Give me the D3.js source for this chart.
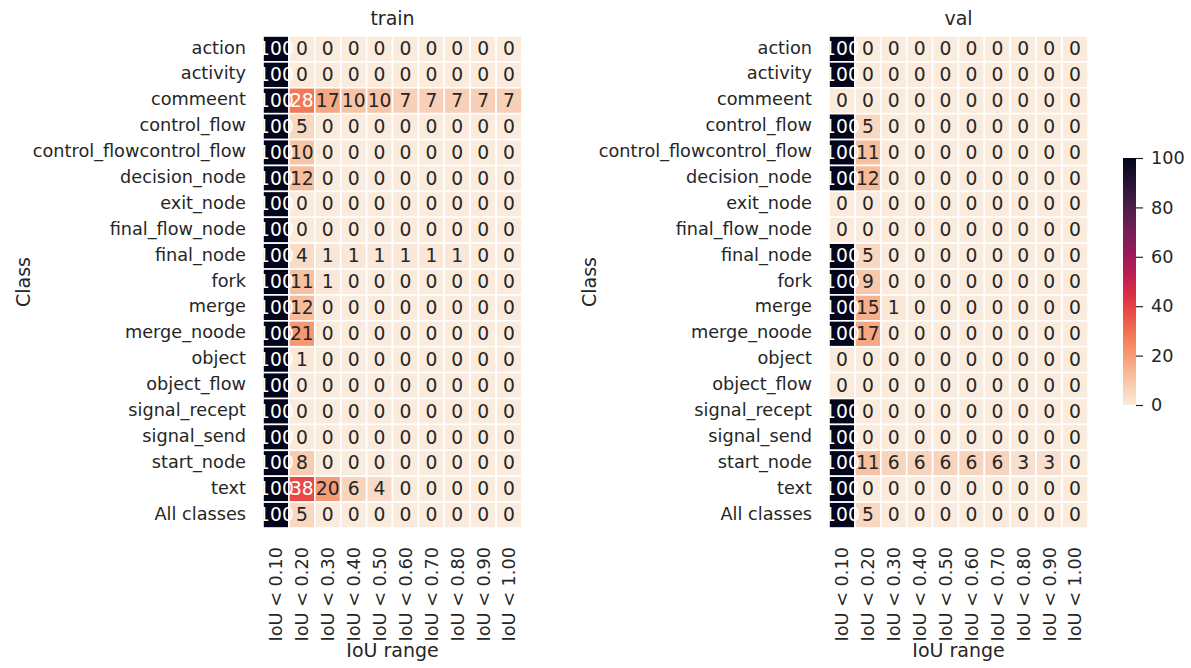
<!DOCTYPE html>
<html>
<head>
<meta charset="utf-8">
<script src="https://cdn.jsdelivr.net/npm/d3@7"></script>
<style>
    body { margin: 0; background: #fff; }
    svg { font-family: "DejaVu Sans", sans-serif; }
</style>
</head>
<body>
<svg class="heatmaps" width="1191" height="668"></svg>
<script>
// row / column labels
const classes = ["action", "activity", "commeent", "control_flow", "control_flowcontrol_flow",
    "decision_node", "exit_node", "final_flow_node", "final_node", "fork", "merge",
    "merge_noode", "object", "object_flow", "signal_recept", "signal_send",
    "start_node", "text", "All classes"];
const iouRanges = ["IoU < 0.10", "IoU < 0.20", "IoU < 0.30", "IoU < 0.40", "IoU < 0.50",
    "IoU < 0.60", "IoU < 0.70", "IoU < 0.80", "IoU < 0.90", "IoU < 1.00"];

// percentage of boxes per class and IoU bucket
const trainValues = [
    [100, 0, 0, 0, 0, 0, 0, 0, 0, 0],
    [100, 0, 0, 0, 0, 0, 0, 0, 0, 0],
    [100, 28, 17, 10, 10, 7, 7, 7, 7, 7],
    [100, 5, 0, 0, 0, 0, 0, 0, 0, 0],
    [100, 10, 0, 0, 0, 0, 0, 0, 0, 0],
    [100, 12, 0, 0, 0, 0, 0, 0, 0, 0],
    [100, 0, 0, 0, 0, 0, 0, 0, 0, 0],
    [100, 0, 0, 0, 0, 0, 0, 0, 0, 0],
    [100, 4, 1, 1, 1, 1, 1, 1, 0, 0],
    [100, 11, 1, 0, 0, 0, 0, 0, 0, 0],
    [100, 12, 0, 0, 0, 0, 0, 0, 0, 0],
    [100, 21, 0, 0, 0, 0, 0, 0, 0, 0],
    [100, 1, 0, 0, 0, 0, 0, 0, 0, 0],
    [100, 0, 0, 0, 0, 0, 0, 0, 0, 0],
    [100, 0, 0, 0, 0, 0, 0, 0, 0, 0],
    [100, 0, 0, 0, 0, 0, 0, 0, 0, 0],
    [100, 8, 0, 0, 0, 0, 0, 0, 0, 0],
    [100, 38, 20, 6, 4, 0, 0, 0, 0, 0],
    [100, 5, 0, 0, 0, 0, 0, 0, 0, 0]
];
const valValues = [
    [100, 0, 0, 0, 0, 0, 0, 0, 0, 0],
    [100, 0, 0, 0, 0, 0, 0, 0, 0, 0],
    [0, 0, 0, 0, 0, 0, 0, 0, 0, 0],
    [100, 5, 0, 0, 0, 0, 0, 0, 0, 0],
    [100, 11, 0, 0, 0, 0, 0, 0, 0, 0],
    [100, 12, 0, 0, 0, 0, 0, 0, 0, 0],
    [0, 0, 0, 0, 0, 0, 0, 0, 0, 0],
    [0, 0, 0, 0, 0, 0, 0, 0, 0, 0],
    [100, 5, 0, 0, 0, 0, 0, 0, 0, 0],
    [100, 9, 0, 0, 0, 0, 0, 0, 0, 0],
    [100, 15, 1, 0, 0, 0, 0, 0, 0, 0],
    [100, 17, 0, 0, 0, 0, 0, 0, 0, 0],
    [0, 0, 0, 0, 0, 0, 0, 0, 0, 0],
    [0, 0, 0, 0, 0, 0, 0, 0, 0, 0],
    [100, 0, 0, 0, 0, 0, 0, 0, 0, 0],
    [100, 0, 0, 0, 0, 0, 0, 0, 0, 0],
    [100, 11, 6, 6, 6, 6, 6, 3, 3, 0],
    [100, 0, 0, 0, 0, 0, 0, 0, 0, 0],
    [100, 5, 0, 0, 0, 0, 0, 0, 0, 0]
];
const colorbarTicks = [0, 20, 40, 60, 80, 100];

// seaborn "rocket_r" approximated by a few samples of the colormap
const rocketStops = ["#faebdd", "#f6b48f", "#f37651", "#e13342", "#ad1759", "#701f57", "#35193e", "#03051a"];
const color = d3.scaleLinear()
    .domain(rocketStops.map((c, i) => i * 100 / (rocketStops.length - 1)))
    .range(rocketStops)
    .interpolate(d3.interpolateRgb)
    .clamp(true);

const textColor = "#262626";
const tickFont = 17.7;
const svg = d3.select(".heatmaps");

// relative luminance, same rule seaborn uses for the annotation colour
function luminance(c) {
    let rgb = d3.rgb(c);
    let lin = [rgb.r, rgb.g, rgb.b].map(v => {
        v = v / 255;
        return v <= 0.03928 ? v / 12.92 : Math.pow((v + 0.055) / 1.055, 2.4);
    });
    return 0.2126 * lin[0] + 0.7152 * lin[1] + 0.0722 * lin[2];
}

/**
 * Draws one annotated heatmap
 */
function drawHeatmap(values, title, left) {
    let top = 36, size = 259, height = 492;
    let x = d3.scaleBand().domain(iouRanges).range([left, left + size]);
    let y = d3.scaleBand().domain(classes).range([top, top + height]);

    let cells = [];
    values.forEach((row, i) => row.forEach((v, j) => {
        cells.push({ cls: classes[i], range: iouRanges[j], value: v });
    }));

    let g = svg.append("g");

    g.selectAll("rect")
        .data(cells)
        .enter().append("rect")
        .attr("x", d => x(d.range))
        .attr("y", d => y(d.cls))
        .attr("width", x.bandwidth())
        .attr("height", y.bandwidth())
        .attr("fill", d => color(d.value))
        .attr("stroke", "#fff")
        .attr("stroke-width", 1.6);

    g.selectAll("text.annot")
        .data(cells)
        .enter().append("text")
        .attr("class", "annot")
        .attr("x", d => x(d.range) + x.bandwidth() / 2)
        .attr("y", d => y(d.cls) + y.bandwidth() / 2)
        .attr("dy", "0.33em")
        .attr("text-anchor", "middle")
        .attr("font-size", 18.7)
        .attr("fill", d => luminance(color(d.value)) > 0.408 ? textColor : "#fff")
        .text(d => d.value);

    // y tick labels
    g.selectAll("text.ylab")
        .data(classes)
        .enter().append("text")
        .attr("class", "ylab")
        .attr("x", left - 17)
        .attr("y", d => y(d) + y.bandwidth() / 2)
        .attr("dy", "0.26em")
        .attr("text-anchor", "end")
        .attr("font-size", tickFont)
        .attr("fill", textColor)
        .text(d => d);

    // x tick labels, rotated
    g.selectAll("text.xlab")
        .data(iouRanges)
        .enter().append("text")
        .attr("class", "xlab")
        .attr("transform", d => "translate(" + (x(d) + x.bandwidth() / 2) + "," + (top + height + 19) + ") rotate(-90)")
        .attr("dy", "0.36em")
        .attr("text-anchor", "end")
        .attr("font-size", tickFont)
        .attr("fill", textColor)
        .text(d => d);

    g.append("text")
        .attr("x", left + size / 2)
        .attr("y", 25)
        .attr("text-anchor", "middle")
        .attr("font-size", 19)
        .attr("fill", textColor)
        .text(title);

    g.append("text")
        .attr("x", left + size / 2)
        .attr("y", 657)
        .attr("text-anchor", "middle")
        .attr("font-size", 19)
        .attr("fill", textColor)
        .text("IoU range");

    g.append("text")
        .attr("transform", "translate(" + (left - 233) + "," + (top + height / 2) + ") rotate(-90)")
        .attr("text-anchor", "middle")
        .attr("font-size", 19)
        .attr("fill", textColor)
        .text("Class");
}

function drawColorbar() {
    let cb = { x: 1123, y: 158, w: 13, h: 247 };
    let scale = d3.scaleLinear().domain([0, 100]).range([cb.y + cb.h, cb.y]);

    let grad = svg.append("defs").append("linearGradient")
        .attr("id", "cbar")
        .attr("x1", 0).attr("y1", 1).attr("x2", 0).attr("y2", 0);
    grad.selectAll("stop")
        .data(d3.range(0, 101, 5))
        .enter().append("stop")
        .attr("offset", d => d + "%")
        .attr("stop-color", d => color(d));

    svg.append("rect")
        .attr("x", cb.x)
        .attr("y", cb.y)
        .attr("width", cb.w)
        .attr("height", cb.h)
        .attr("fill", "url(#cbar)");

    let axis = svg.append("g")
        .attr("transform", "translate(" + (cb.x + cb.w) + ",0)")
        .call(d3.axisRight(scale).tickValues(colorbarTicks).tickSize(7).tickPadding(8));
    axis.select(".domain").remove();
    axis.selectAll("line").attr("stroke", textColor).attr("stroke-width", 1.2);
    axis.selectAll("text")
        .attr("font-family", "DejaVu Sans, sans-serif")
        .attr("font-size", tickFont)
        .attr("fill", textColor);
}

drawHeatmap(trainValues, "train", 263);
drawHeatmap(valValues, "val", 829);
drawColorbar();
</script>
</body>
</html>
